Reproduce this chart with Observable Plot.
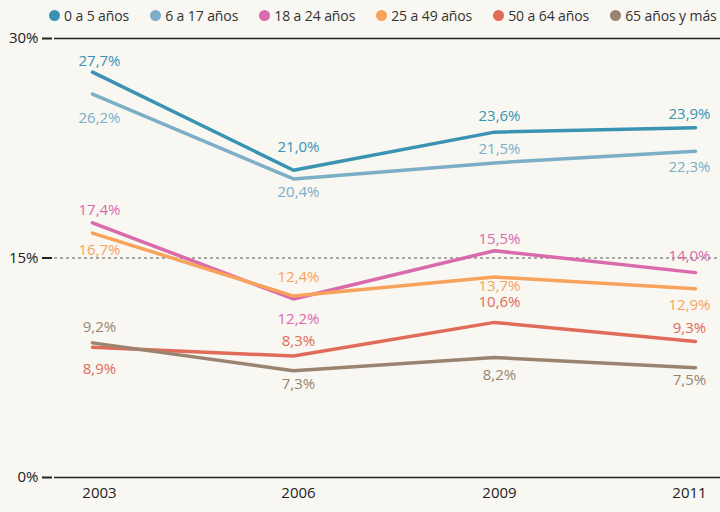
<!DOCTYPE html>
<html><head><meta charset="utf-8">
<script src="https://cdn.jsdelivr.net/npm/d3@7"></script>
<script src="https://cdn.jsdelivr.net/npm/@observablehq/plot@0.6"></script>
<style>
body{margin:0;background:#f8f7f2;font-family:"Open Sans",sans-serif;width:720px;height:512px;overflow:hidden}
#legend{height:30px;display:flex;align-items:center;padding-left:49px;white-space:nowrap;font-size:14px;color:#333;overflow:hidden;letter-spacing:-0.1px;position:relative;z-index:1}
.item{display:flex;align-items:center;margin-right:21px;flex:none}
.sw{width:11px;height:11px;border-radius:50%;margin-right:4px;flex:none}
#chart{margin-top:-12px}
</style></head><body>
<div id="legend"></div><div id="chart"></div>
<script>
const years = ["2003", "2006", "2009", "2011"];
const seriesNames = ["0 a 5 años", "6 a 17 años", "18 a 24 años", "25 a 49 años", "50 a 64 años", "65 años y más"];
const age0to5 = [27.7, 21.0, 23.6, 23.9];
const age6to17 = [26.2, 20.4, 21.5, 22.3];
const age18to24 = [17.4, 12.2, 15.5, 14.0];
const age25to49 = [16.7, 12.4, 13.7, 12.9];
const age50to64 = [8.9, 8.3, 10.6, 9.3];
const age65plus = [9.2, 7.3, 8.2, 7.5];
const yTicks = [0, 15, 30];

const colors = ["#3a93b3", "#7caec8", "#d96aab", "#f7a35c", "#e06b58", "#9a8470"];
const allValues = [age0to5, age6to17, age18to24, age25to49, age50to64, age65plus];

// label placement (pixel offsets), styling only
const labelDy = [
  [-11, -23, -16, -14],
  [24, 13, -14, 16],
  [-13, 20, -11, -16],
  [17, -19, 9, 16],
  [22, -15, -20, -13],
  [-16, 14, 18, 12]
];
const yearDx = [7, 5, 5, -6];

const rows = [];
seriesNames.forEach((s, si) => years.forEach((yr, yi) => rows.push({series: s, si, yi, year: yr, value: allValues[si][yi]})));

const legend = document.getElementById("legend");
seriesNames.forEach((s, i) => {
  const it = document.createElement("div"); it.className = "item";
  const sw = document.createElement("span"); sw.className = "sw"; sw.style.background = colors[i];
  const t = document.createElement("span"); t.textContent = s;
  it.append(sw, t); legend.append(it);
});

const fmt = v => v.toFixed(1).replace(".", ",") + "%";

const chart = Plot.plot({
  width: 720, height: 494,
  marginTop: 20, marginBottom: 35, marginLeft: 91, marginRight: 25,
  style: {background: "transparent", fontFamily: "Open Sans, sans-serif", fontSize: "15px"},
  x: {type: "point", domain: years, padding: 0, axis: null},
  y: {domain: [0, 30], axis: null},
  color: {domain: seriesNames, range: colors},
  marks: [
    Plot.ruleY([0, 30], {stroke: "#222", strokeWidth: 1.3, insetLeft: -37, insetRight: -25}),
    Plot.ruleY([15], {stroke: "#555", strokeWidth: 1, strokeDasharray: "3,3", insetLeft: -37, insetRight: -25}),
    Plot.axisY({ticks: yTicks, tickFormat: d => d + "%", label: null, tickSize: 10, tickPadding: 4, dx: -39, strokeWidth: 2, stroke: "#222", fill: "#222", fontSize: 15}),
    ...years.map((yr, i) => Plot.text([yr], {x: d => d, frameAnchor: "bottom", dy: 20, dx: yearDx[i], fill: "#222", fontSize: 15})),
    Plot.line(rows, {x: "year", y: "value", z: "series", stroke: "series", strokeWidth: 3.5, strokeLinejoin: "miter"}),
    ...rows.map(r => Plot.text([r], {x: "year", y: "value", text: d => fmt(d.value), fill: colors[r.si], fontSize: 15,
      dx: yearDx[r.yi], dy: labelDy[r.si][r.yi]}))
  ]
});
document.getElementById("chart").append(chart);
</script>
</body></html>
